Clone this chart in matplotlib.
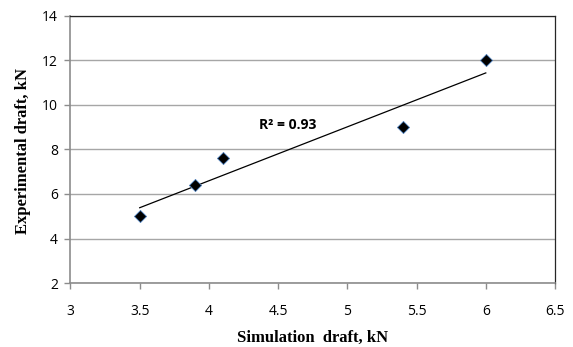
import numpy as np
import matplotlib
matplotlib.use("Agg")
import matplotlib.pyplot as plt

sim_draft = [3.5, 3.9, 4.1, 5.4, 6.0]
exp_draft = [5.0, 6.4, 7.6, 9.0, 12.0]
x_ticks = [3, 3.5, 4, 4.5, 5, 5.5, 6, 6.5]
y_ticks = [2, 4, 6, 8, 10, 12, 14]

fig = plt.figure(figsize=(5.73, 3.47), dpi=100)
ax = fig.add_axes([0.123, 0.1844, 0.8456, 0.7696])

ax.set_xlim(3, 6.5)
ax.set_ylim(2, 14)
ax.set_xticks(x_ticks)
ax.set_xticklabels([f"{t:g}" for t in x_ticks])
ax.set_yticks(y_ticks)
ax.yaxis.grid(True, color="#a6a6a6", linewidth=1.0)
ax.set_axisbelow(True)

for side in ["left", "bottom"]:
    ax.spines[side].set_color("#8c8c8c")
    ax.spines[side].set_linewidth(1.2)
for side in ["top", "right"]:
    ax.spines[side].set_color("#262626")
    ax.spines[side].set_linewidth(0.9)

ax.tick_params(axis="both", colors="#8c8c8c", length=4, width=1,
               labelcolor="black", labelsize=10)
for lab in ax.get_xticklabels() + ax.get_yticklabels():
    lab.set_family("Open Sans")
ax.tick_params(axis="x", pad=11)
ax.tick_params(axis="y", pad=5)

# linear trend line
slope, intercept = np.polyfit(sim_draft, exp_draft, 1)
xs = np.array([min(sim_draft), max(sim_draft)])
ax.plot(xs, slope * xs + intercept, color="black", linewidth=0.9)

pred = slope * np.array(sim_draft) + intercept
r2 = 1 - np.sum((np.array(exp_draft) - pred) ** 2) / np.sum((np.array(exp_draft) - np.mean(exp_draft)) ** 2)

ax.scatter(sim_draft, exp_draft, marker="D", s=38, color="black",
           edgecolors="#4f81bd", linewidths=0.6, zorder=3)

ax.text(4.36, 9.1, f"R² = {r2:.2f}", fontsize=10, fontweight="bold",
        family="Open Sans", va="center", ha="left")

fig.text(0.545, 1 - 338 / 347, "Simulation  draft, kN", family="Liberation Serif",
         fontweight="bold", fontsize=12, ha="center", va="center")
fig.text(23 / 573, 1 - 151 / 347, "Experimental draft, kN", family="Liberation Serif",
         fontweight="bold", fontsize=12, ha="center", va="center", rotation=90)

fig.savefig("out.png", dpi=100)
